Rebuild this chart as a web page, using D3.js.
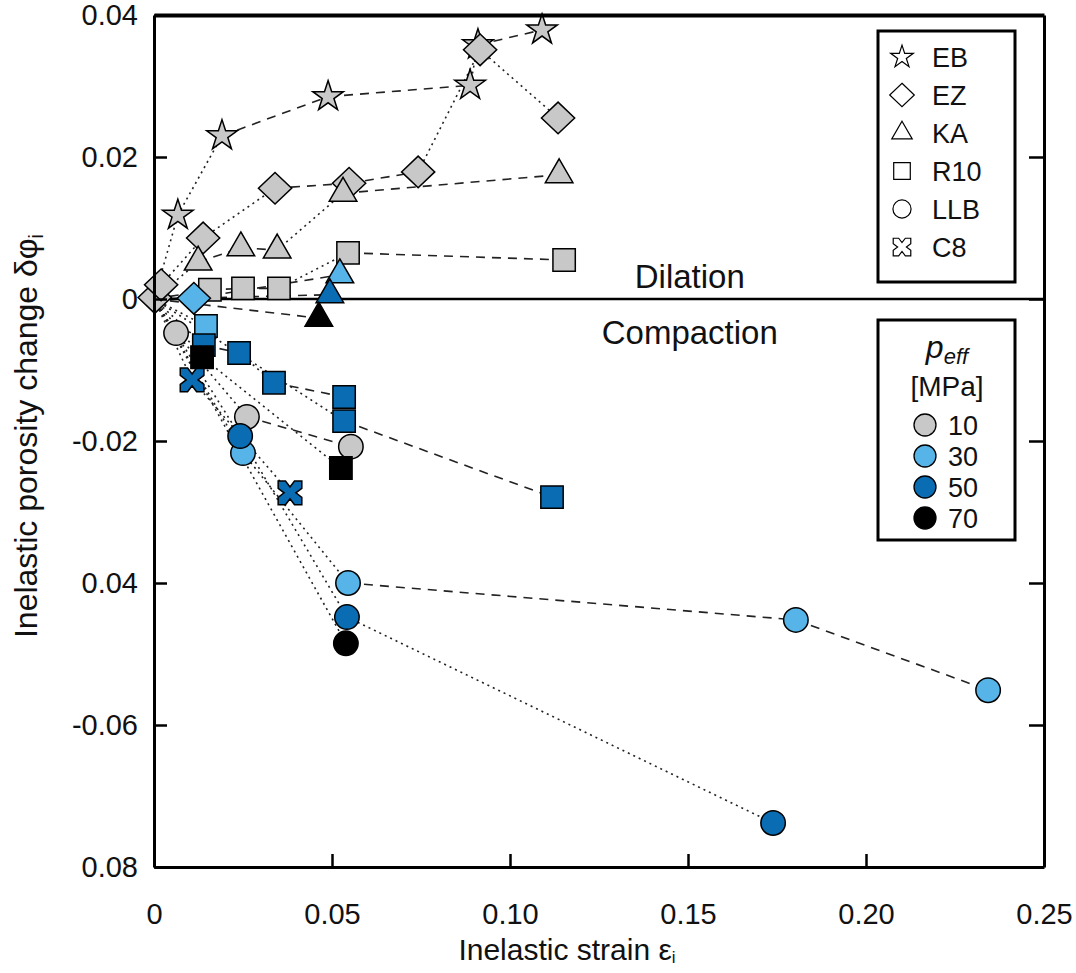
<!DOCTYPE html>
<html><head><meta charset="utf-8">
<script src="https://cdn.jsdelivr.net/npm/d3@7"></script>
<style>
body{margin:0;background:#fff}
svg{display:block}
text{font-family:"Liberation Sans",Arial,sans-serif;fill:#111}
</style>
</head><body>
<svg id="c" width="1076" height="973"></svg>
<script>
// ---------- data ----------
const xTicks=[0,0.05,0.10,0.15,0.20,0.25];
const xTickLabels=["0","0.05","0.10","0.15","0.20","0.25"];
const yTicks=[0.04,0.02,0,-0.02,-0.04,-0.06,-0.08];
const yTickLabels=["0.04","0.02","0","-0.02","0.04","-0.06","0.08"];

const samples=["EB","EZ","KA","R10","LLB","C8"];
const pressures=[10,30,50,70];
const pressureColors=["#c8c8c8","#56b4e9","#0a6db3","#000000"];

const EB_x=[0.0067,0.0191,0.0489,0.0888,0.0910,0.1090];
const EB_y=[0.0118,0.0230,0.0285,0.0301,0.0358,0.0379];
const EB_p=[10,10,10,10,10,10];

const EZ_x=[0.0002,0.0020,0.0138,0.0340,0.0548,0.0742,0.0916,0.1135,0.0112];
const EZ_y=[0.0002,0.0020,0.0086,0.0156,0.0163,0.0179,0.0351,0.0255,0.0001];
const EZ_p=[10,10,10,10,10,10,10,10,30];

const KA_x=[0.0124,0.0244,0.0346,0.0531,0.1138,0.0522,0.0494,0.0463];
const KA_y=[0.0052,0.0072,0.0069,0.0149,0.0175,0.0034,0.0006,-0.0027];
const KA_p=[10,10,10,10,10,30,50,70];

const R10_x=[0.0157,0.0250,0.0351,0.0545,0.1152,0.0146,0.0140,0.0135,0.0239,0.0337,0.0534,0.0534,0.1118,0.0525];
const R10_y=[0.0013,0.0015,0.0015,0.0065,0.0055,-0.0038,-0.0065,-0.0082,-0.0076,-0.0118,-0.0138,-0.0172,-0.0279,-0.0238];
const R10_p=[10,10,10,10,10,30,50,70,50,50,50,50,50,70];

const LLB_x=[0.0062,0.0261,0.0553,0.0250,0.0545,0.1803,0.2343,0.0242,0.0542,0.1739,0.0539];
const LLB_y=[-0.0048,-0.0166,-0.0208,-0.0217,-0.0400,-0.0452,-0.0551,-0.0193,-0.0448,-0.0738,-0.0485];
const LLB_p=[10,10,10,30,30,30,30,50,50,50,70];

const C8_x=[0.0107,0.0382];
const C8_y=[-0.0114,-0.0273];
const C8_p=[50,50];

// connecting lines: point indices per sample ("O" = origin)
const EB_lines=[["O",0,1,2,3,4,5]];
const EZ_lines=[["O",1,2,3,4,5,6,7],["O",8]];
const KA_lines=[["O",0,1,2,3,4],["O",7],["O",6]];
const R10_lines=[["O",0,1,2,3,4],["O",5],["O",6,8,9,10],["O",11,12],["O",7,13]];
const LLB_lines=[["O",0,1,2],["O",3,4,5,6],["O",7,8,9],["O",10]];
const C8_lines=[["O",0,1]];
const crossLines=[[["EZ",8],["KA",5]]];

// ---------- setup ----------
const sampleData={
  EB:{x:EB_x,y:EB_y,p:EB_p,lines:EB_lines},
  EZ:{x:EZ_x,y:EZ_y,p:EZ_p,lines:EZ_lines},
  KA:{x:KA_x,y:KA_y,p:KA_p,lines:KA_lines},
  R10:{x:R10_x,y:R10_y,p:R10_p,lines:R10_lines},
  LLB:{x:LLB_x,y:LLB_y,p:LLB_p,lines:LLB_lines},
  C8:{x:C8_x,y:C8_y,p:C8_p,lines:C8_lines}
};

const svg=d3.select("#c");
const L=154,R=1044,T=15,B=867;
const x=d3.scaleLinear().domain([0,0.25]).range([L,R]);
const y=d3.scaleLinear().domain([-0.08,0.04]).range([B,T]);
const color=d3.scaleOrdinal().domain(pressures).range(pressureColors);

// symbol shapes
const diamond={draw(ctx,size){const r=Math.sqrt(size/2);ctx.moveTo(0,-r);ctx.lineTo(r*1.05,0);ctx.lineTo(0,r);ctx.lineTo(-r*1.05,0);ctx.closePath();}};
const notchedSquare={draw(ctx,size){const r=Math.sqrt(size)/2, a=0.38*r, d=0.5*r;
  const pts=[[-r,-r],[-a,-r],[0,-r+d],[a,-r],[r,-r],[r,-a],[r-d,0],[r,a],[r,r],[a,r],[0,r-d],[-a,r],[-r,r],[-r,a],[-r+d,0],[-r,-a]];
  ctx.moveTo(pts[0][0],pts[0][1]);for(let i=1;i<pts.length;i++)ctx.lineTo(pts[i][0],pts[i][1]);ctx.closePath();}};
const shape={EB:d3.symbolStar,EZ:diamond,KA:d3.symbolTriangle,R10:d3.symbolSquare,LLB:d3.symbolCircle,C8:notchedSquare};
const shapeSize={EB:290,EZ:500,KA:330,R10:500,LLB:470,C8:560};

// ---------- lines ----------
const gLines=svg.append("g");
function pt(s,i){ if(i==="O") return [0,0]; const d=sampleData[s]; return [d.x[i],d.y[i]]; }
function drawSeg(a,b){
  const x1=x(a[0]),y1=y(a[1]),x2=x(b[0]),y2=y(b[1]);
  const ang=Math.abs(Math.atan2(y2-y1,x2-x1))*180/Math.PI;
  const steep=ang>22&&ang<158;
  gLines.append("line").attr("x1",x1).attr("y1",y1).attr("x2",x2).attr("y2",y2)
    .attr("stroke","#222").attr("stroke-width",1.6)
    .attr("stroke-dasharray",steep?"2,4":"9,7");
}
samples.forEach(s=>{
  sampleData[s].lines.forEach(l=>{
    for(let i=0;i<l.length-1;i++) drawSeg(pt(s,l[i]),pt(s,l[i+1]));
  });
});
crossLines.forEach(l=>drawSeg(pt(l[0][0],l[0][1]),pt(l[1][0],l[1][1])));

// zero line
svg.append("line").attr("x1",x(0)).attr("x2",x(0.25)).attr("y1",y(0)).attr("y2",y(0))
  .attr("stroke","#000").attr("stroke-width",2.5);

// ---------- markers ----------
const gPts=svg.append("g");
pressures.forEach(p=>{
  samples.forEach(s=>{
    const d=sampleData[s];
    d.x.forEach((xv,i)=>{
      if(d.p[i]!==p) return;
      gPts.append("path")
        .attr("d",d3.symbol().type(shape[s]).size(shapeSize[s])())
        .attr("transform",`translate(${x(xv)},${y(d.y[i])})`)
        .attr("fill",color(p)).attr("stroke","#000").attr("stroke-width",1.5);
    });
  });
});

// ---------- axes ----------
const fs=29;
const ax=svg.append("g").attr("transform",`translate(0,${B})`)
  .call(d3.axisBottom(x).tickValues(xTicks).tickFormat((d,i)=>xTickLabels[i]).tickSizeInner(-13).tickSizeOuter(0).tickPadding(36));
const ay=svg.append("g").attr("transform",`translate(${L},0)`)
  .call(d3.axisLeft(y).tickValues(yTicks).tickFormat((d,i)=>yTickLabels[i]).tickSizeInner(-13).tickSizeOuter(0).tickPadding(16));
const ar=svg.append("g").attr("transform",`translate(${R},0)`)
  .call(d3.axisRight(y).tickValues(yTicks).tickFormat("").tickSizeInner(-15).tickSizeOuter(0));
const at=svg.append("g").attr("transform",`translate(0,${T})`)
  .call(d3.axisTop(x).tickValues([]).tickSizeOuter(0));
[ax,ay,ar,at].forEach(g=>{
  g.select(".domain").attr("stroke","#000").attr("stroke-width",3);
  g.selectAll(".tick line").attr("stroke","#000").attr("stroke-width",2.5);
  g.selectAll("text").attr("font-size",fs).attr("font-family","Liberation Sans, Arial, sans-serif").attr("fill","#111");
});
at.select(".domain").attr("stroke-width",4);

// axis titles
const xt=svg.append("text").attr("x",567).attr("y",960).attr("text-anchor","middle").attr("font-size",30);
xt.append("tspan").text("Inelastic strain ε");
xt.append("tspan").attr("font-size",17).attr("dy",3).text("i");

const yt=svg.append("text").attr("transform",`translate(37,436) rotate(-90)`).attr("text-anchor","middle").attr("font-size",32);
yt.append("tspan").text("Inelastic porosity change δφ");
yt.append("tspan").attr("font-size",20).attr("dy",6).text("i");

// region annotations
svg.append("text").attr("x",x(0.1505)).attr("y",y(0)-11).attr("text-anchor","middle").attr("font-size",33).text("Dilation");
svg.append("text").attr("x",x(0.1505)).attr("y",y(0)+45).attr("text-anchor","middle").attr("font-size",33).text("Compaction");

// ---------- legend 1: samples ----------
const lg1=svg.append("g");
lg1.append("rect").attr("x",878).attr("y",31).attr("width",137).attr("height",251)
  .attr("fill","#fff").attr("stroke","#000").attr("stroke-width",3);
samples.forEach((s,i)=>{
  const cy=57+i*38;
  lg1.append("path").attr("d",d3.symbol().type(shape[s]).size(shapeSize[s]*0.55)())
    .attr("transform",`translate(902,${cy})`).attr("fill","#fff").attr("stroke","#000").attr("stroke-width",1.2);
  lg1.append("text").attr("x",932).attr("y",cy+10).attr("font-size",27).text(s);
});

// ---------- legend 2: pressure ----------
const lg2=svg.append("g");
lg2.append("rect").attr("x",878).attr("y",320).attr("width",137).attr("height",220)
  .attr("fill","#fff").attr("stroke","#000").attr("stroke-width",3);
const pt1=lg2.append("text").attr("x",947).attr("y",358).attr("text-anchor","middle").attr("font-style","italic");
pt1.append("tspan").attr("font-size",32).text("p");
pt1.append("tspan").attr("font-size",22).attr("dy",6).text("eff");
lg2.append("text").attr("x",947).attr("y",396).attr("text-anchor","middle").attr("font-size",28).text("[MPa]");
pressures.forEach((p,i)=>{
  const cy=425+i*31;
  lg2.append("circle").attr("cx",925).attr("cy",cy).attr("r",11).attr("fill",color(p)).attr("stroke","#000").attr("stroke-width",1.3);
  lg2.append("text").attr("x",948).attr("y",cy+10).attr("font-size",27).text(p);
});
</script>
</body></html>
